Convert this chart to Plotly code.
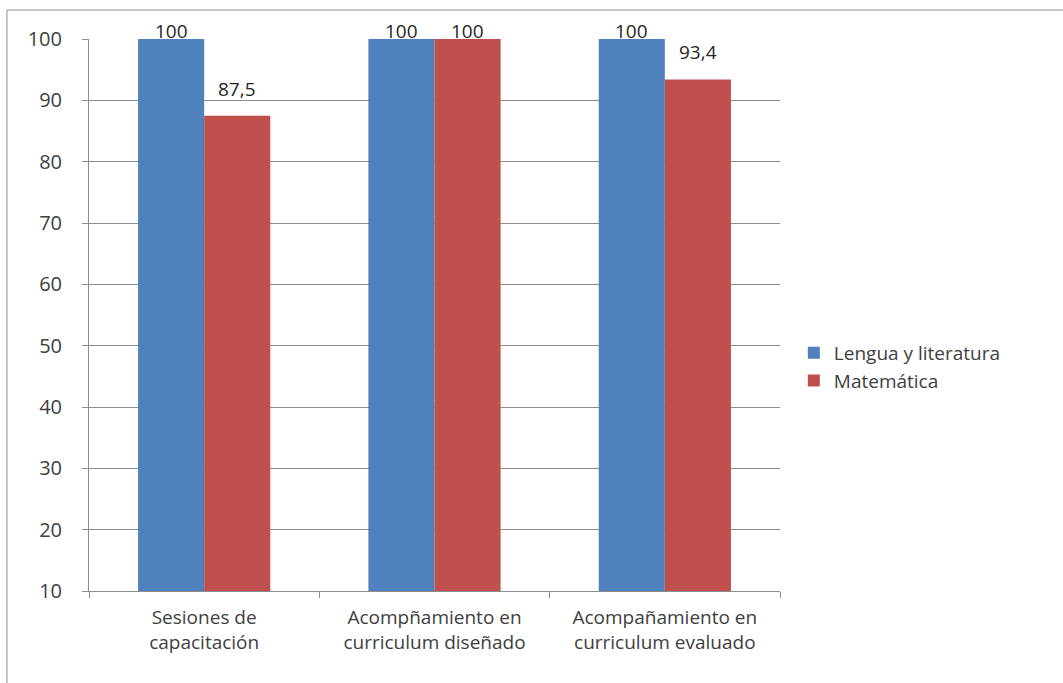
import plotly.graph_objects as go

categories = [
    "Sesiones de<br>capacitación",
    "Acompñamiento en<br>curriculum diseñado",
    "Acompañamiento en<br>curriculum evaluado",
]
series_names = ["Lengua y literatura", "Matemática"]
lengua = [100, 100, 100]
matematica = [87.5, 100, 93.4]
y_ticks = [10, 20, 30, 40, 50, 60, 70, 80, 90, 100]

font_family = "Open Sans, Liberation Sans, sans-serif"
text_color = "#404040"
label_color = "#262626"
colors = ["#4f81bd", "#c0504d"]

W, H = 1063, 683
margin = dict(l=89, r=283, t=39, b=92)
y_min, y_max = 10, 100
plot_h = H - margin["t"] - margin["b"]
px_per_unit = plot_h / (y_max - y_min)
bar_px = (W - margin["l"] - margin["r"]) / len(categories) * (1 - 0.426) / 2

fig = go.Figure()
for name, vals, col in zip(series_names, [lengua, matematica], colors):
    fig.add_trace(go.Bar(
        x=categories, y=vals, name=name,
        marker=dict(color=col, line=dict(width=0)),
    ))

# value labels above each bar, kept inside the chart area near the top
annotations = []
for s, vals in enumerate([lengua, matematica]):
    offset = (s - 0.5) * bar_px
    for cat, v in zip(categories, vals):
        top_px = margin["t"] + (y_max - v) * px_per_unit
        baseline = max(top_px - 18, margin["t"] + 1)
        shift = top_px - 6 - baseline
        annotations.append(dict(
            x=cat, y=v, xref="x", yref="y",
            text=f"{v:g}".replace(".", ","), showarrow=False,
            xanchor="center", yanchor="bottom",
            xshift=offset, yshift=shift,
            font=dict(size=19, color=label_color, family=font_family),
        ))

fig.update_layout(
    width=W, height=H,
    margin=margin,
    paper_bgcolor="white", plot_bgcolor="white",
    barmode="group", bargap=0.426, bargroupgap=0,
    font=dict(family=font_family, size=19, color=text_color),
    separators=",.",
    showlegend=True,
    legend=dict(
        x=1.02, y=0.406, xanchor="left", yanchor="middle",
        font=dict(size=19, color=text_color),
        itemwidth=30, tracegroupgap=0,
    ),
    yaxis=dict(
        range=[y_min, y_max], tickvals=y_ticks,
        showgrid=True, gridcolor="#8c8c8c", gridwidth=1,
        showline=True, linecolor="#8c8c8c", linewidth=1,
        ticks="outside", ticklen=6, tickcolor="#8c8c8c",
        ticklabelstandoff=16,
        tickfont=dict(size=20, color=text_color),
        zeroline=False,
    ),
    xaxis=dict(
        showline=True, linecolor="#8c8c8c", linewidth=1,
        ticks="outside", ticklen=6, tickcolor="#8c8c8c",
        tickson="boundaries", ticklabelstandoff=9,
        tickfont=dict(size=19, color=text_color),
    ),
    annotations=annotations,
    shapes=[dict(
        type="rect", xref="paper", yref="paper",
        x0=-0.1187, x1=1.6, y0=-0.5, y1=1.0525,
        line=dict(color="#8c8c8c", width=1), fillcolor="rgba(0,0,0,0)",
        layer="below",
    )],
)

fig.write_html("out.html")
